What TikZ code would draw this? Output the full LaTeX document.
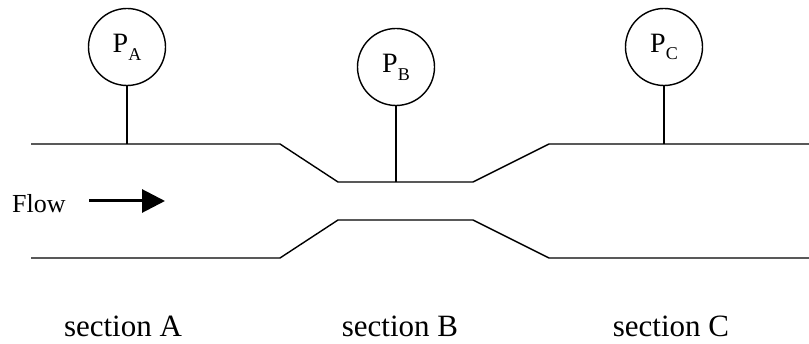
\documentclass[tikz,border=0pt]{standalone}
\usepackage{fontspec}
\setmainfont{Liberation Serif}
\usetikzlibrary{arrows.meta}
\begin{document}
\begin{tikzpicture}[x=1pt,y=-1pt,
  wall/.style={line width=1.4pt,line join=miter},
  gauge/.style={circle,draw,line width=1.4pt,minimum size=77pt,inner sep=0pt,font=\fontsize{28}{30}\selectfont},
  stem/.style={line width=1.4pt},
  seclabel/.style={anchor=base,inner sep=0pt,font=\fontsize{31}{34}\selectfont},
  flowarrow/.style={line width=3pt,-{Triangle[length=23pt,width=23pt]}}]
\useasboundingbox (0,0) rectangle (809,344);
% pipe walls
\coordinate (tA) at (127,144);
\coordinate (tB) at (396,182);
\coordinate (tC) at (664,144);
\draw[wall] (31,144) -- (280,144) -- (338,182) -- (473,182) -- (549,144) -- (809,144);
\draw[wall] (31,258) -- (280,258) -- (338,220) -- (473,220) -- (549,258) -- (809,258);
% gauges
\node[gauge] (pa) at (127,47) {P\raisebox{-0.28em}{\fontsize{18}{20}\selectfont A}};
\node[gauge] (pb) at (396,67) {P\raisebox{-0.28em}{\fontsize{18}{20}\selectfont B}};
\node[gauge] (pc) at (664,47) {P\raisebox{-0.28em}{\fontsize{18}{20}\selectfont C}};
\draw[stem] (pa) -- (tA);
\draw[stem] (pb) -- (tB);
\draw[stem] (pc) -- (tC);
% flow
\node[anchor=base west,inner sep=0pt,font=\fontsize{26}{30}\selectfont] (flow) at (12,213) {Flow};
\coordinate (fs) at (89,201);
\coordinate (fe) at (165,201);
\draw[flowarrow] (fs) -- (fe);
% section labels
\node[seclabel] (sa) at (123,337) {section A};
\node[seclabel] (sb) at (400,337) {section B};
\node[seclabel] (sc) at (671,337) {section C};
\end{tikzpicture}
\end{document}
